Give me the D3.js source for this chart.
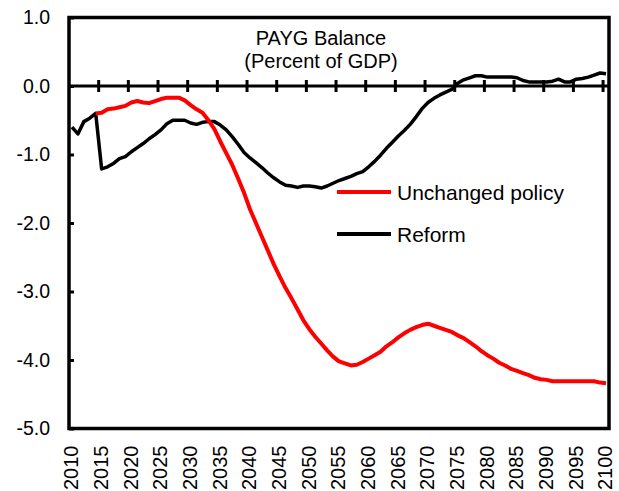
<!DOCTYPE html>
<html>
<head>
<meta charset="utf-8">
<script src="https://cdn.jsdelivr.net/npm/d3@7/dist/d3.min.js"></script>
<style>
  html, body { margin: 0; padding: 0; background: #fff; }
  svg { display: block; }
  text { font-family: "Liberation Sans", Arial, sans-serif; fill: #000; }
</style>
</head>
<body>
<svg id="chart" width="619" height="491"></svg>
<script>
// Years on the category axis
const years = d3.range(2010, 2101);
const labelYears = d3.range(2010, 2101, 5);
const yTicks = [1, 0, -1, -2, -3, -4, -5];

// PAYG balance, percent of GDP — unchanged policy (series begins 2014)
const unchanged = [
  null, null, null, null, -0.40, -0.39, -0.34, -0.33, -0.31, -0.29,
  -0.24, -0.22, -0.24, -0.25, -0.22, -0.19, -0.17, -0.17, -0.17, -0.21,
  -0.28, -0.34, -0.39, -0.50, -0.63, -0.81, -0.98, -1.15, -1.35, -1.56,
  -1.80, -2.00, -2.20, -2.40, -2.60, -2.78, -2.95, -3.10, -3.26, -3.42,
  -3.55, -3.66, -3.76, -3.86, -3.95, -4.02, -4.05, -4.08, -4.07, -4.03,
  -3.98, -3.93, -3.88, -3.80, -3.74, -3.67, -3.61, -3.56, -3.52, -3.49,
  -3.47, -3.50, -3.53, -3.56, -3.59, -3.64, -3.68, -3.74, -3.80, -3.87,
  -3.93, -3.98, -4.04, -4.08, -4.13, -4.16, -4.19, -4.22, -4.26, -4.28,
  -4.29, -4.31, -4.31, -4.31, -4.31, -4.31, -4.31, -4.31, -4.31, -4.33,
  -4.34
];

// PAYG balance, percent of GDP — reform
const reform = [
  -0.60, -0.70, -0.52, -0.47, -0.40, -1.21, -1.18, -1.13, -1.06, -1.03,
  -0.96, -0.90, -0.84, -0.77, -0.71, -0.64, -0.55, -0.50, -0.50, -0.50,
  -0.54, -0.56, -0.53, -0.52, -0.52, -0.57, -0.64, -0.74, -0.85, -0.97,
  -1.05, -1.12, -1.19, -1.27, -1.34, -1.40, -1.45, -1.46, -1.48, -1.46,
  -1.46, -1.47, -1.49, -1.46, -1.42, -1.38, -1.35, -1.32, -1.28, -1.25,
  -1.18, -1.10, -1.01, -0.91, -0.82, -0.73, -0.65, -0.56, -0.45, -0.33,
  -0.24, -0.18, -0.13, -0.09, -0.05, 0.04, 0.09, 0.12, 0.15, 0.15,
  0.13, 0.13, 0.13, 0.13, 0.13, 0.12, 0.08, 0.06, 0.06, 0.06,
  0.06, 0.07, 0.10, 0.06, 0.06, 0.10, 0.11, 0.13, 0.16, 0.19,
  0.18
];

const seriesNames = ["Unchanged policy", "Reform"];
const seriesColors = ["#ff0000", "#000000"];

const svg = d3.select("#chart");
const plot = { left: 69, right: 609, top: 17.5, bottom: 428.5 };

const x = d3.scaleBand().domain(years).range([plot.left, plot.right]).paddingInner(0).paddingOuter(0);
const xc = yr => x(yr) + x.bandwidth() / 2;
const y = d3.scaleLinear().domain([-5, 1]).range([plot.bottom, plot.top]);

// Y axis with inward ticks
const yAxis = d3.axisLeft(y)
  .tickValues(yTicks)
  .tickFormat(d => d.toFixed(1))
  .tickSize(-5)
  .tickPadding(19);
const gy = svg.append("g").attr("transform", `translate(${plot.left},0)`).call(yAxis);
gy.select(".domain").remove();
gy.selectAll(".tick line").attr("stroke", "#000").attr("stroke-width", 3);
gy.selectAll(".tick text").attr("font-size", 19.5).attr("font-family", "Liberation Sans, Arial, sans-serif");

// X axis labels at the bottom, rotated
const xAxis = d3.axisBottom(x).tickValues(labelYears).tickSize(0).tickPadding(0);
const gx = svg.append("g").attr("transform", `translate(0,${plot.bottom})`).call(xAxis);
gx.select(".domain").remove();
gx.selectAll(".tick text")
  .attr("font-size", 20)
  .attr("font-family", "Liberation Sans, Arial, sans-serif")
  .attr("text-anchor", "end")
  .attr("transform", "translate(-1,17) rotate(-90)")
  .attr("x", 0)
  .attr("y", 0)
  .attr("dy", "0.36em");

// Zero line with crossing tick marks at every fifth category boundary
const y0 = y(0);
svg.append("line")
  .attr("x1", plot.left).attr("x2", plot.right)
  .attr("y1", y0).attr("y2", y0)
  .attr("stroke", "#000").attr("stroke-width", 3);
const boundaryYears = d3.range(2015, 2101, 5);
svg.append("g").selectAll("line")
  .data(boundaryYears)
  .join("line")
  .attr("x1", d => x(d)).attr("x2", d => x(d))
  .attr("y1", y0 - 6).attr("y2", y0 + 6)
  .attr("stroke", "#000").attr("stroke-width", 3);

// Title
svg.append("text").attr("x", 321).attr("y", 45).attr("text-anchor", "middle")
  .attr("font-size", 20).text("PAYG Balance");
svg.append("text").attr("x", 321).attr("y", 68).attr("text-anchor", "middle")
  .attr("font-size", 20).text("(Percent of GDP)");

// Series lines
const line = d3.line()
  .defined(d => d.v != null)
  .x(d => xc(d.year))
  .y(d => y(d.v));
const toPoints = arr => years.map((yr, i) => ({ year: yr, v: arr[i] }));

svg.append("path").datum(toPoints(reform))
  .attr("fill", "none").attr("stroke", seriesColors[1]).attr("stroke-width", 3.5)
  .attr("stroke-linejoin", "round").attr("d", line);
svg.append("path").datum(toPoints(unchanged))
  .attr("fill", "none").attr("stroke", seriesColors[0]).attr("stroke-width", 4)
  .attr("stroke-linejoin", "round").attr("d", line);

// Plot frame
svg.append("rect")
  .attr("x", plot.left).attr("y", plot.top)
  .attr("width", plot.right - plot.left).attr("height", plot.bottom - plot.top)
  .attr("fill", "none").attr("stroke", "#000").attr("stroke-width", 3.5);

// Legend
const legend = svg.append("g");
seriesNames.forEach((name, i) => {
  const ly = 192 + i * 42;
  legend.append("line").attr("x1", 337).attr("x2", 391).attr("y1", ly).attr("y2", ly)
    .attr("stroke", seriesColors[i]).attr("stroke-width", 4);
  legend.append("text").attr("x", 397).attr("y", ly + 8).attr("font-size", 21).text(name);
});
</script>
</body>
</html>
